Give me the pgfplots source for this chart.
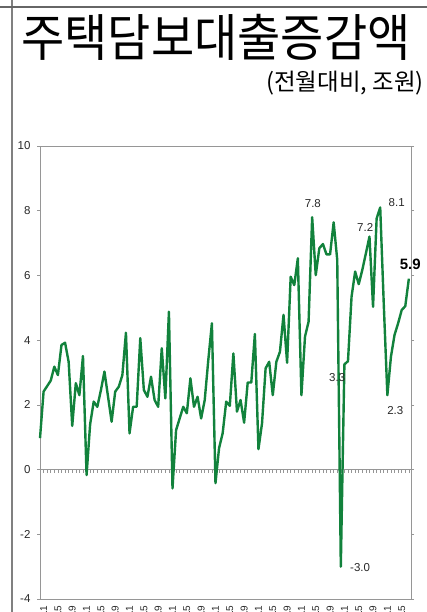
\documentclass[border=0pt]{standalone}
\usepackage{fontspec}
\setmainfont{Liberation Sans}
\newfontfamily\kr{Noto Sans CJK KR}
\usepackage{pgfplots}
\pgfplotsset{compat=1.18}
\definecolor{lg}{RGB}{18,130,60}
\definecolor{axgray}{RGB}{150,150,150}
\definecolor{txt}{RGB}{40,40,40}

\pgfplotstableread{
i v
0 0.97
1 2.41
2 2.58
3 2.75
4 3.18
5 2.92
6 3.85
7 3.92
8 3.33
9 1.35
10 2.67
11 2.30
12 3.51
13 -0.17
14 1.40
15 2.10
16 1.94
17 2.45
18 3.03
19 2.25
20 1.48
21 2.41
22 2.56
23 2.92
24 4.23
25 1.12
26 1.94
27 1.94
28 4.06
29 2.46
30 2.25
31 2.87
32 2.15
33 1.94
34 3.75
35 2.20
36 4.88
37 -0.58
38 1.22
39 1.58
40 1.94
41 1.74
42 2.82
43 1.94
44 2.25
45 1.58
46 2.15
47 3.39
48 4.52
49 -0.42
50 0.66
51 1.12
52 2.10
53 1.97
54 3.59
55 1.79
56 2.15
57 1.45
58 2.69
59 2.69
60 4.19
61 0.63
62 1.43
63 3.13
64 3.33
65 2.30
66 3.33
67 3.64
68 4.78
69 3.30
70 5.96
71 5.70
72 6.53
73 2.30
74 4.11
75 4.57
76 7.80
77 6.01
78 6.84
79 6.97
80 6.65
81 6.65
82 7.64
83 6.48
84 -3.00
85 3.25
86 3.35
87 5.34
88 6.12
89 5.73
90 6.17
91 6.68
92 7.20
93 5.03
94 7.76
95 8.10
96 5.10
97 2.30
98 3.49
99 4.16
100 4.52
101 4.93
102 5.05
103 5.90
}\datatable

\begin{document}
\begin{tikzpicture}[x=1pt,y=1pt]
% frame lines of the slide
\draw[gray, line width=1.3pt] (12,0) -- (12,612);
\draw[gray!80!black, line width=1.1pt] (0,605) -- (427,605);
% titles
\node[anchor=center, inner sep=0] at (216,575) {\scalebox{1}[1.08]{\kr\fontsize{47}{52}\selectfont 주택담보대출증감액}};
\node[anchor=east, inner sep=0] at (424,529) {\kr\fontsize{23.5}{27}\selectfont (전월대비, 조원)};
% zero line with ticks
\begin{axis}[
  at={(40pt,13pt)}, anchor=south west,
  width=371pt, height=453pt, scale only axis,
  xmin=0, xmax=103.6, ymin=-4, ymax=10,
  axis x line=middle, axis y line=none,
  x axis line style={-, axgray, line width=0.8pt},
  xtick={0,...,103}, xticklabels={},
  tick align=outside, major tick length=3pt,
  xtick style={axgray, line width=0.6pt},
]
\end{axis}
\begin{axis}[
  at={(40pt,13pt)}, anchor=south west,
  width=371pt, height=453pt, scale only axis,
  xmin=0, xmax=103.6, ymin=-4, ymax=10,
  ytick={-4,-2,...,10},
  xtick={1,5,...,101},
  xticklabels={08.1,08.5,08.9,09.1,09.5,09.9,10.1,10.5,10.9,11.1,11.5,11.9,12.1,12.5,12.9,13.1,13.5,13.9,14.1,14.5,14.9,15.1,15.5,15.9,16.1,16.5},
  xticklabel style={rotate=90, anchor=east, font=\fontsize{10}{12}\selectfont, text=txt},
  xtick style={draw=none},
  tick align=outside, major tick length=3pt,
  ytick style={axgray, line width=0.6pt},
  axis line style={axgray, line width=0.8pt},
  yticklabel style={font=\fontsize{11.5}{13}\selectfont, text=txt, xshift=-3pt},
  /pgf/number format/assume math mode=true,
  clip=false,
]
\addplot[lg, line width=2.4pt, line join=round] table[x=i, y=v] {\datatable};
\node[font=\fontsize{11.5}{13}\selectfont, text=txt] at (axis cs:76.2,8.21) {7.8};
\node[font=\fontsize{11.5}{13}\selectfont, text=txt] at (axis cs:99.6,8.25) {8.1};
\node[font=\fontsize{11.5}{13}\selectfont, text=txt] at (axis cs:90.8,7.49) {7.2};
\node[font=\bfseries\fontsize{15}{17}\selectfont, text=black] at (axis cs:103.4,6.34) {5.9};
\node[font=\fontsize{11.5}{13}\selectfont, text=txt] at (axis cs:83,2.85) {3.3};
\node[font=\fontsize{11.5}{13}\selectfont, text=txt] at (axis cs:99.2,1.82) {2.3};
\node[font=\fontsize{11.5}{13}\selectfont, text=txt] at (axis cs:89.4,-3.02) {-3.0};
\end{axis}
\pgfresetboundingbox
\path[use as bounding box] (0,0) rectangle (427,612);
\end{tikzpicture}
\end{document}
